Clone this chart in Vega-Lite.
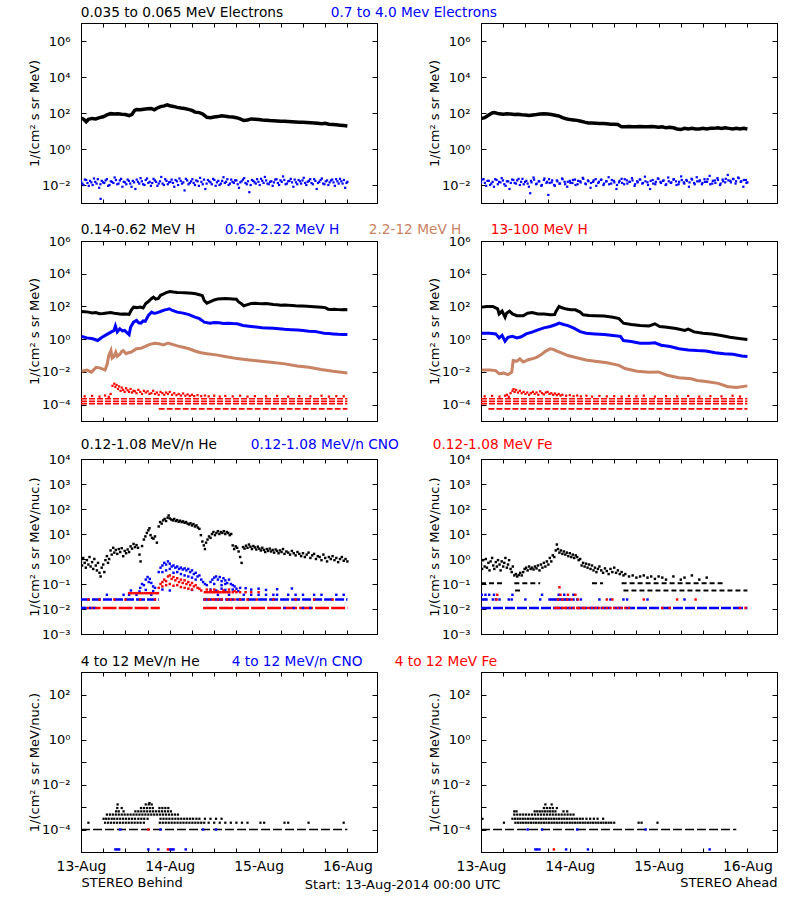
{
"$schema":"https://vega.github.io/schema/vega-lite/v6.json",
"padding":{"left":27,"top":5,"right":2,"bottom":5},
"background":"white",
"title":{"text":"Start: 13-Aug-2014 00:00 UTC","orient":"bottom","anchor":"middle","offset":-11,"fontSize":13,"fontWeight":"normal","font":"DejaVu Sans","color":"black"},
"config":{
 "font":"DejaVu Sans",
 "view":{"stroke":"black","strokeWidth":1},
 "axis":{"grid":false,"domainColor":"black","tickColor":"black","labelColor":"black","titleColor":"black","labelFont":"DejaVu Sans","titleFont":"DejaVu Sans","labelFontSize":13,"titleFontSize":13,"titleFontWeight":"normal","domainWidth":1,"tickWidth":1},
 "axisTop":{"tickSize":-4},
 "axisBottom":{"tickSize":-4,"labelPadding":11,"labelFlush":false,"labelOverlap":false,"titlePadding":3},
 "axisLeft":{"tickSize":-5,"labelPadding":16,"labelOverlap":false},
 "axisRight":{"tickSize":-5},
 "legend":{"labelLimit":0,"padding":0}
},
"datasets":{
"e1LA":[{"h":0,"v":52},{"h":0.5,"v":48},{"h":1,"v":40},{"h":1.4,"v":33},{"h":2,"v":44},{"h":3,"v":50},{"h":4,"v":47},{"h":5,"v":55},{"h":6,"v":62},{"h":7,"v":78},{"h":8,"v":92},{"h":9,"v":88},{"h":10,"v":90},{"h":11,"v":85},{"h":12,"v":82},{"h":13,"v":72},{"h":13.8,"v":85},{"h":14.5,"v":140},{"h":15,"v":155},{"h":16,"v":150},{"h":17,"v":162},{"h":18,"v":170},{"h":19,"v":178},{"h":19.8,"v":150},{"h":20.5,"v":185},{"h":21.5,"v":225},{"h":22.5,"v":250},{"h":23.3,"v":285},{"h":24,"v":255},{"h":25,"v":232},{"h":26,"v":205},{"h":27,"v":190},{"h":28,"v":178},{"h":29,"v":160},{"h":30,"v":140},{"h":30.8,"v":112},{"h":32,"v":105},{"h":33,"v":85},{"h":34,"v":58},{"h":35,"v":55},{"h":36,"v":60},{"h":37,"v":63},{"h":38,"v":70},{"h":39,"v":66},{"h":40,"v":62},{"h":41,"v":60},{"h":42,"v":55},{"h":43,"v":47},{"h":44,"v":38},{"h":45,"v":41},{"h":46,"v":47},{"h":47,"v":45},{"h":48,"v":43},{"h":49,"v":41},{"h":50,"v":40},{"h":51,"v":38},{"h":52,"v":37},{"h":53,"v":36},{"h":54,"v":35},{"h":55,"v":35},{"h":56,"v":34},{"h":57,"v":33},{"h":58,"v":32},{"h":59,"v":31},{"h":60,"v":31},{"h":61,"v":30},{"h":62,"v":29},{"h":63,"v":28},{"h":64,"v":27},{"h":65,"v":25},{"h":66,"v":27},{"h":67,"v":24},{"h":68,"v":23},{"h":69,"v":22},{"h":70,"v":21},{"h":71,"v":20},{"h":72,"v":19}],
"e1LB":[{"h":0,"v":0.016},{"h":0.7,"v":0.01},{"h":1.4,"v":0.019},{"h":2.1,"v":0.009},{"h":2.8,"v":0.014},{"h":3.5,"v":0.023},{"h":4.2,"v":0.012},{"h":4.9,"v":0.007},{"h":5.3,"v":0.0017},{"h":5.6,"v":0.017},{"h":6.3,"v":0.013},{"h":7,"v":0.021},{"h":7.7,"v":0.01},{"h":8.4,"v":0.015},{"h":9.1,"v":0.026},{"h":9.8,"v":0.011},{"h":10.5,"v":0.018},{"h":11.2,"v":0.008},{"h":11.9,"v":0.014},{"h":12.6,"v":0.02},{"h":13.3,"v":0.012},{"h":14,"v":0.017},{"h":14.7,"v":0.006},{"h":15.4,"v":0.015},{"h":16.1,"v":0.024},{"h":16.8,"v":0.011},{"h":17.5,"v":0.019},{"h":18.2,"v":0.013},{"h":18.9,"v":0.009},{"h":19.6,"v":0.022},{"h":20.3,"v":0.015},{"h":21,"v":0.012},{"h":21.7,"v":0.028},{"h":22.4,"v":0.01},{"h":23.1,"v":0.017},{"h":23.8,"v":0.014},{"h":24.5,"v":0.02},{"h":25.2,"v":0.008},{"h":25.9,"v":0.016},{"h":26.6,"v":0.023},{"h":27.3,"v":0.012},{"h":28,"v":0.005},{"h":28.7,"v":0.018},{"h":29.4,"v":0.013},{"h":30.1,"v":0.021},{"h":30.8,"v":0.01},{"h":31.5,"v":0.016},{"h":32.2,"v":0.025},{"h":32.9,"v":0.011},{"h":33.6,"v":0.006},{"h":34.3,"v":0.019},{"h":35,"v":0.014},{"h":35.7,"v":0.022},{"h":36.4,"v":0.009},{"h":37.1,"v":0.017},{"h":37.8,"v":0.012},{"h":38.5,"v":0.027},{"h":39.2,"v":0.015},{"h":39.9,"v":0.01},{"h":40.6,"v":0.02},{"h":41.3,"v":0.013},{"h":42,"v":0.018},{"h":42.7,"v":0.007},{"h":43.4,"v":0.016},{"h":44.1,"v":0.024},{"h":44.8,"v":0.011},{"h":45.5,"v":0.004},{"h":46.2,"v":0.019},{"h":46.9,"v":0.014},{"h":47.6,"v":0.021},{"h":48.3,"v":0.01},{"h":49,"v":0.017},{"h":49.7,"v":0.028},{"h":50.4,"v":0.012},{"h":51.1,"v":0.015},{"h":51.8,"v":0.009},{"h":52.5,"v":0.02},{"h":53.2,"v":0.013},{"h":53.9,"v":0.018},{"h":54.6,"v":0.03},{"h":55.3,"v":0.011},{"h":56,"v":0.016},{"h":56.7,"v":0.022},{"h":57.4,"v":0.008},{"h":58.1,"v":0.014},{"h":58.8,"v":0.019},{"h":59.5,"v":0.012},{"h":60.2,"v":0.025},{"h":60.9,"v":0.01},{"h":61.6,"v":0.017},{"h":62.3,"v":0.013},{"h":63,"v":0.021},{"h":63.7,"v":0.006},{"h":64.4,"v":0.015},{"h":65.1,"v":0.023},{"h":65.8,"v":0.011},{"h":66.5,"v":0.018},{"h":67.2,"v":0.014},{"h":67.9,"v":0.02},{"h":68.6,"v":0.009},{"h":69.3,"v":0.016},{"h":70,"v":0.022},{"h":70.7,"v":0.012},{"h":71.4,"v":0.007},{"h":72,"v":0.015},
{"h":0.35,"v":0.012},{"h":1.05,"v":0.02},{"h":1.75,"v":0.013},{"h":2.45,"v":0.017},{"h":3.15,"v":0.01},{"h":3.85,"v":0.015},{"h":4.55,"v":0.021},{"h":5.25,"v":0.011},{"h":5.95,"v":0.014},{"h":6.65,"v":0.018},{"h":7.35,"v":0.009},{"h":8.05,"v":0.016},{"h":8.75,"v":0.013},{"h":9.45,"v":0.019},{"h":10.15,"v":0.012},{"h":10.85,"v":0.022},{"h":11.55,"v":0.015},{"h":12.25,"v":0.011},{"h":12.95,"v":0.017},{"h":13.65,"v":0.008},{"h":14.35,"v":0.014},{"h":15.05,"v":0.02},{"h":15.75,"v":0.012},{"h":16.45,"v":0.016},{"h":17.15,"v":0.01},{"h":17.85,"v":0.023},{"h":18.55,"v":0.015},{"h":19.25,"v":0.013},{"h":19.95,"v":0.018},{"h":20.65,"v":0.009},{"h":21.35,"v":0.016},{"h":22.05,"v":0.012},{"h":22.75,"v":0.021},{"h":23.45,"v":0.011},{"h":24.15,"v":0.015},{"h":24.85,"v":0.013},{"h":25.55,"v":0.019},{"h":26.25,"v":0.01},{"h":26.95,"v":0.017},{"h":27.65,"v":0.014},{"h":28.35,"v":0.022},{"h":29.05,"v":0.011},{"h":29.75,"v":0.016},{"h":30.45,"v":0.013},{"h":31.15,"v":0.018},{"h":31.85,"v":0.009},{"h":32.55,"v":0.015},{"h":33.25,"v":0.02},{"h":33.95,"v":0.012},{"h":34.65,"v":0.016},{"h":35.35,"v":0.011},{"h":36.05,"v":0.019},{"h":36.75,"v":0.014},{"h":37.45,"v":0.01},{"h":38.15,"v":0.017},{"h":38.85,"v":0.013},{"h":39.55,"v":0.021},{"h":40.25,"v":0.012},{"h":40.95,"v":0.015},{"h":41.65,"v":0.018},{"h":42.35,"v":0.011},{"h":43.05,"v":0.014},{"h":43.75,"v":0.02},{"h":44.45,"v":0.013},{"h":45.15,"v":0.016},{"h":45.85,"v":0.01},{"h":46.55,"v":0.017},{"h":47.25,"v":0.012},{"h":47.95,"v":0.015},{"h":48.65,"v":0.022},{"h":49.35,"v":0.013},{"h":50.05,"v":0.018},{"h":50.75,"v":0.011},{"h":51.45,"v":0.016},{"h":52.15,"v":0.014},{"h":52.85,"v":0.021},{"h":53.55,"v":0.01},{"h":54.25,"v":0.015},{"h":54.95,"v":0.019},{"h":55.65,"v":0.012},{"h":56.35,"v":0.017},{"h":57.05,"v":0.014},{"h":57.75,"v":0.02},{"h":58.45,"v":0.011},{"h":59.15,"v":0.016},{"h":59.85,"v":0.018},{"h":60.55,"v":0.013},{"h":61.25,"v":0.015},{"h":61.95,"v":0.021},{"h":62.65,"v":0.011},{"h":63.35,"v":0.017},{"h":64.05,"v":0.013},{"h":64.75,"v":0.019},{"h":65.45,"v":0.012},{"h":66.15,"v":0.016},{"h":66.85,"v":0.01},{"h":67.55,"v":0.018},{"h":68.25,"v":0.014},{"h":68.95,"v":0.021},{"h":69.65,"v":0.012},{"h":70.35,"v":0.016},{"h":71.05,"v":0.019},{"h":71.75,"v":0.013}],
"e1RA":[{"h":0,"v":50},{"h":1,"v":55},{"h":2,"v":75},{"h":3,"v":100},{"h":3.6,"v":105},{"h":4.9,"v":90},{"h":6,"v":85},{"h":7,"v":90},{"h":8,"v":87},{"h":9,"v":82},{"h":10,"v":85},{"h":11,"v":80},{"h":12,"v":78},{"h":13,"v":72},{"h":14,"v":78},{"h":15,"v":82},{"h":16,"v":88},{"h":17,"v":90},{"h":18,"v":88},{"h":19,"v":82},{"h":20,"v":75},{"h":21,"v":68},{"h":22,"v":55},{"h":23,"v":48},{"h":24,"v":43},{"h":25,"v":41},{"h":26,"v":39},{"h":27,"v":35},{"h":28,"v":31},{"h":29,"v":28},{"h":30,"v":28},{"h":31,"v":27},{"h":32,"v":26},{"h":33,"v":26},{"h":34,"v":25},{"h":35,"v":24},{"h":36,"v":24},{"h":37,"v":23},{"h":38,"v":17},{"h":39,"v":17},{"h":40,"v":18},{"h":41,"v":17},{"h":42,"v":17},{"h":43,"v":18},{"h":44,"v":17},{"h":45,"v":17},{"h":46,"v":18},{"h":47,"v":17},{"h":48,"v":16},{"h":49,"v":17},{"h":50,"v":15},{"h":51,"v":16},{"h":52,"v":15},{"h":53,"v":13},{"h":54,"v":12},{"h":55,"v":14},{"h":56,"v":13},{"h":57,"v":14},{"h":58,"v":13},{"h":59,"v":13},{"h":60,"v":14},{"h":61,"v":13},{"h":62,"v":14},{"h":63,"v":14},{"h":64,"v":15},{"h":65,"v":14},{"h":66,"v":15},{"h":67,"v":14},{"h":68,"v":13},{"h":69,"v":14},{"h":70,"v":13},{"h":71,"v":14},{"h":72,"v":13}],
"e1RB":[{"h":0,"v":0.014},{"h":0.7,"v":0.021},{"h":1.4,"v":0.009},{"h":2.1,"v":0.017},{"h":2.8,"v":0.012},{"h":3.5,"v":0.008},{"h":4.2,"v":0.019},{"h":4.9,"v":0.015},{"h":5.6,"v":0.024},{"h":6.3,"v":0.011},{"h":7,"v":0.016},{"h":7.7,"v":0.006},{"h":8.4,"v":0.02},{"h":9.1,"v":0.013},{"h":9.8,"v":0.018},{"h":10.5,"v":0.01},{"h":11.2,"v":0.022},{"h":11.9,"v":0.015},{"h":12.6,"v":0.012},{"h":13.3,"v":0.0035},{"h":13.5,"v":0.017},{"h":14.2,"v":0.026},{"h":14.9,"v":0.011},{"h":15.6,"v":0.016},{"h":16.3,"v":0.009},{"h":17,"v":0.019},{"h":17.7,"v":0.013},{"h":18.2,"v":0.0028},{"h":18.4,"v":0.021},{"h":19.1,"v":0.014},{"h":19.8,"v":0.01},{"h":20.5,"v":0.018},{"h":21.2,"v":0.012},{"h":21.9,"v":0.023},{"h":22.6,"v":0.015},{"h":23.3,"v":0.008},{"h":24,"v":0.017},{"h":24.7,"v":0.013},{"h":25.4,"v":0.02},{"h":26.1,"v":0.011},{"h":26.8,"v":0.016},{"h":27.5,"v":0.025},{"h":28.2,"v":0.012},{"h":28.9,"v":0.018},{"h":29.6,"v":0.007},{"h":30.3,"v":0.015},{"h":31,"v":0.021},{"h":31.7,"v":0.013},{"h":32.4,"v":0.019},{"h":33.1,"v":0.01},{"h":33.8,"v":0.016},{"h":34.5,"v":0.027},{"h":35.2,"v":0.012},{"h":35.9,"v":0.017},{"h":36.6,"v":0.006},{"h":37.3,"v":0.014},{"h":38,"v":0.022},{"h":38.7,"v":0.011},{"h":39.4,"v":0.018},{"h":40.1,"v":0.015},{"h":40.8,"v":0.024},{"h":41.5,"v":0.009},{"h":42.2,"v":0.016},{"h":42.9,"v":0.02},{"h":43.6,"v":0.012},{"h":44.3,"v":0.029},{"h":45,"v":0.014},{"h":45.7,"v":0.006},{"h":46.4,"v":0.019},{"h":47.1,"v":0.011},{"h":47.8,"v":0.023},{"h":48.5,"v":0.015},{"h":49.2,"v":0.017},{"h":49.9,"v":0.01},{"h":50.6,"v":0.026},{"h":51.3,"v":0.013},{"h":52,"v":0.02},{"h":52.7,"v":0.016},{"h":53.4,"v":0.011},{"h":54.1,"v":0.03},{"h":54.8,"v":0.014},{"h":55.5,"v":0.019},{"h":56.2,"v":0.008},{"h":56.9,"v":0.022},{"h":57.6,"v":0.013},{"h":58.3,"v":0.027},{"h":59,"v":0.016},{"h":59.7,"v":0.011},{"h":60.4,"v":0.021},{"h":61.1,"v":0.015},{"h":61.8,"v":0.032},{"h":62.5,"v":0.012},{"h":63.2,"v":0.018},{"h":63.9,"v":0.024},{"h":64.6,"v":0.01},{"h":65.3,"v":0.02},{"h":66,"v":0.014},{"h":66.7,"v":0.036},{"h":67.4,"v":0.017},{"h":68.1,"v":0.022},{"h":68.8,"v":0.012},{"h":69.5,"v":0.026},{"h":70.2,"v":0.015},{"h":70.9,"v":0.008},{"h":71.6,"v":0.019},{"h":72,"v":0.014},
{"h":0.35,"v":0.02},{"h":1.05,"v":0.013},{"h":1.75,"v":0.017},{"h":2.45,"v":0.01},{"h":3.15,"v":0.015},{"h":3.85,"v":0.021},{"h":4.55,"v":0.011},{"h":5.25,"v":0.014},{"h":5.95,"v":0.018},{"h":6.65,"v":0.009},{"h":7.35,"v":0.016},{"h":8.05,"v":0.013},{"h":8.75,"v":0.019},{"h":9.45,"v":0.012},{"h":10.15,"v":0.022},{"h":10.85,"v":0.015},{"h":11.55,"v":0.011},{"h":12.25,"v":0.017},{"h":12.95,"v":0.008},{"h":13.65,"v":0.014},{"h":14.35,"v":0.02},{"h":15.05,"v":0.012},{"h":15.75,"v":0.016},{"h":16.45,"v":0.01},{"h":17.15,"v":0.023},{"h":17.85,"v":0.015},{"h":18.55,"v":0.013},{"h":19.25,"v":0.018},{"h":19.95,"v":0.009},{"h":20.65,"v":0.016},{"h":21.35,"v":0.012},{"h":22.05,"v":0.021},{"h":22.75,"v":0.011},{"h":23.45,"v":0.015},{"h":24.15,"v":0.013},{"h":24.85,"v":0.019},{"h":25.55,"v":0.01},{"h":26.25,"v":0.017},{"h":26.95,"v":0.014},{"h":27.65,"v":0.022},{"h":28.35,"v":0.011},{"h":29.05,"v":0.016},{"h":29.75,"v":0.013},{"h":30.45,"v":0.018},{"h":31.15,"v":0.009},{"h":31.85,"v":0.015},{"h":32.55,"v":0.02},{"h":33.25,"v":0.012},{"h":33.95,"v":0.016},{"h":34.65,"v":0.011},{"h":35.35,"v":0.019},{"h":36.05,"v":0.014},{"h":36.75,"v":0.01},{"h":37.45,"v":0.017},{"h":38.15,"v":0.013},{"h":38.85,"v":0.021},{"h":39.55,"v":0.012},{"h":40.25,"v":0.015},{"h":40.95,"v":0.018},{"h":41.65,"v":0.011},{"h":42.35,"v":0.014},{"h":43.05,"v":0.02},{"h":43.75,"v":0.013},{"h":44.45,"v":0.016},{"h":45.15,"v":0.01},{"h":45.85,"v":0.017},{"h":46.55,"v":0.012},{"h":47.25,"v":0.015},{"h":47.95,"v":0.022},{"h":48.65,"v":0.013},{"h":49.35,"v":0.018},{"h":50.05,"v":0.011},{"h":50.75,"v":0.016},{"h":51.45,"v":0.014},{"h":52.15,"v":0.021},{"h":52.85,"v":0.01},{"h":53.55,"v":0.015},{"h":54.25,"v":0.019},{"h":54.95,"v":0.012},{"h":55.65,"v":0.017},{"h":56.35,"v":0.014},{"h":57.05,"v":0.02},{"h":57.75,"v":0.011},{"h":58.45,"v":0.016},{"h":59.15,"v":0.018},{"h":59.85,"v":0.013},{"h":60.55,"v":0.015},{"h":61.25,"v":0.021},{"h":61.95,"v":0.011},{"h":62.65,"v":0.017},{"h":63.35,"v":0.013},{"h":64.05,"v":0.019},{"h":64.75,"v":0.012},{"h":65.45,"v":0.016},{"h":66.15,"v":0.022},{"h":66.85,"v":0.018},{"h":67.55,"v":0.014},{"h":68.25,"v":0.021},{"h":68.95,"v":0.016},{"h":69.65,"v":0.024},{"h":70.35,"v":0.016},{"h":71.05,"v":0.019},{"h":71.75,"v":0.013}],
"h2LA":[{"h":0,"v":49},{"h":1,"v":47},{"h":2,"v":45},{"h":3,"v":40},{"h":4,"v":42},{"h":5,"v":36},{"h":6,"v":37},{"h":7,"v":40},{"h":8,"v":42},{"h":9,"v":38},{"h":10,"v":36},{"h":11,"v":34},{"h":12,"v":35},{"h":13,"v":33},{"h":13.6,"v":60},{"h":14.2,"v":90},{"h":15,"v":85},{"h":16,"v":92},{"h":16.8,"v":80},{"h":17.5,"v":150},{"h":18.2,"v":200},{"h":19,"v":300},{"h":19.6,"v":370},{"h":20.2,"v":280},{"h":20.9,"v":310},{"h":21.5,"v":480},{"h":22.2,"v":560},{"h":23,"v":700},{"h":24,"v":820},{"h":25,"v":760},{"h":26,"v":720},{"h":27,"v":700},{"h":28,"v":680},{"h":29,"v":660},{"h":30,"v":640},{"h":31,"v":600},{"h":32,"v":520},{"h":32.8,"v":460},{"h":33.3,"v":230},{"h":34,"v":160},{"h":35,"v":200},{"h":36,"v":250},{"h":37,"v":290},{"h":38,"v":300},{"h":39,"v":310},{"h":40,"v":300},{"h":41,"v":290},{"h":42,"v":275},{"h":42.6,"v":190},{"h":43.3,"v":150},{"h":44,"v":110},{"h":45,"v":130},{"h":46,"v":150},{"h":47,"v":155},{"h":48,"v":150},{"h":49,"v":148},{"h":50,"v":150},{"h":51,"v":140},{"h":52,"v":132},{"h":53,"v":126},{"h":54,"v":120},{"h":55,"v":122},{"h":56,"v":118},{"h":57,"v":115},{"h":58,"v":110},{"h":59,"v":108},{"h":60,"v":105},{"h":61,"v":102},{"h":62,"v":100},{"h":63,"v":97},{"h":64,"v":94},{"h":65,"v":90},{"h":66,"v":85},{"h":66.8,"v":68},{"h":67.5,"v":66},{"h":68.5,"v":68},{"h":69.5,"v":64},{"h":70.5,"v":62},{"h":71.3,"v":64},{"h":72,"v":63}],
"h2LB":[{"h":0.2,"v":1.45},{"h":1.6,"v":1.2},{"h":3.2,"v":1.05},{"h":4.5,"v":0.83},{"h":5.7,"v":1.3},{"h":6.9,"v":1.9},{"h":8.1,"v":2.7},{"h":8.9,"v":3.4},{"h":9.3,"v":6.5},{"h":9.8,"v":2.8},{"h":10.5,"v":4.3},{"h":11.2,"v":3.2},{"h":11.8,"v":3.4},{"h":12.4,"v":2.5},{"h":13,"v":1.9},{"h":13.4,"v":5.4},{"h":14.2,"v":11},{"h":15,"v":14},{"h":15.6,"v":10},{"h":16.2,"v":9.5},{"h":16.8,"v":13},{"h":17.4,"v":12.5},{"h":18.2,"v":28},{"h":19.1,"v":45},{"h":19.7,"v":38},{"h":20.3,"v":39},{"h":21,"v":45},{"h":21.5,"v":49},{"h":22.1,"v":55},{"h":22.7,"v":62},{"h":23.3,"v":66},{"h":23.9,"v":72},{"h":24.7,"v":57},{"h":25.3,"v":52},{"h":26,"v":45},{"h":27.6,"v":39},{"h":29.2,"v":32},{"h":30.8,"v":22},{"h":32,"v":18},{"h":32.7,"v":14},{"h":33.3,"v":11},{"h":34.9,"v":9.5},{"h":36,"v":10.5},{"h":37.3,"v":10},{"h":38.5,"v":9.2},{"h":39.7,"v":9.5},{"h":41,"v":9},{"h":42.2,"v":8.7},{"h":43.8,"v":6.8},{"h":45.4,"v":6.2},{"h":46.6,"v":5.8},{"h":47.9,"v":5.4},{"h":49,"v":5},{"h":50.3,"v":4.9},{"h":52,"v":4.6},{"h":53.5,"v":4.3},{"h":55,"v":4},{"h":56.8,"v":3.8},{"h":58.5,"v":3.6},{"h":60,"v":3.4},{"h":61.6,"v":3.1},{"h":63.3,"v":2.9},{"h":64.5,"v":2.6},{"h":65.7,"v":2.3},{"h":67,"v":2.2},{"h":68.1,"v":2.1},{"h":69.5,"v":2},{"h":70.8,"v":1.95},{"h":72,"v":1.9}],
"h2LC":[{"h":0.2,"v":0.011},{"h":1.6,"v":0.013},{"h":2.8,"v":0.0097},{"h":4.1,"v":0.019},{"h":5.3,"v":0.017},{"h":6.5,"v":0.013},{"h":7.1,"v":0.031},{"h":7.5,"v":0.1},{"h":8.1,"v":0.2},{"h":8.4,"v":0.07},{"h":8.9,"v":0.087},{"h":9.4,"v":0.16},{"h":9.8,"v":0.09},{"h":10.5,"v":0.12},{"h":11,"v":0.18},{"h":11.4,"v":0.2},{"h":12.2,"v":0.13},{"h":12.8,"v":0.15},{"h":13.4,"v":0.16},{"h":14.2,"v":0.2},{"h":15,"v":0.26},{"h":16.2,"v":0.28},{"h":17.4,"v":0.36},{"h":18.6,"v":0.48},{"h":19.9,"v":0.57},{"h":21.1,"v":0.52},{"h":22.3,"v":0.45},{"h":23.5,"v":0.57},{"h":24.7,"v":0.48},{"h":26,"v":0.39},{"h":27.6,"v":0.32},{"h":29.2,"v":0.26},{"h":30.8,"v":0.19},{"h":32.4,"v":0.15},{"h":34.1,"v":0.13},{"h":36.5,"v":0.11},{"h":38.9,"v":0.087},{"h":42.2,"v":0.065},{"h":45.4,"v":0.054},{"h":48.7,"v":0.045},{"h":51.9,"v":0.037},{"h":55.1,"v":0.031},{"h":58.4,"v":0.023},{"h":61.6,"v":0.019},{"h":64.9,"v":0.014},{"h":68.1,"v":0.011},{"h":72,"v":0.0087}],
"h2LD":[{"h":1,"v":0.00032},{"h":3,"v":0.00034},{"h":5,"v":0.00031},{"h":6.5,"v":0.00036},{"h":7.5,"v":0.0003},{"h":8,"v":0.00045},{"h":8.5,"v":0.0014},{"h":9,"v":0.0019},{"h":9.3,"v":0.0012},{"h":9.6,"v":0.0016},{"h":10,"v":0.0009},{"h":10.3,"v":0.0013},{"h":10.7,"v":0.0007},{"h":11,"v":0.0011},{"h":11.4,"v":0.0008},{"h":11.8,"v":0.0006},{"h":12.2,"v":0.001},{"h":12.6,"v":0.00075},{"h":13,"v":0.0006},{"h":13.4,"v":0.0009},{"h":13.8,"v":0.00055},{"h":14.2,"v":0.0007},{"h":14.6,"v":0.00065},{"h":15,"v":0.0005},{"h":15.5,"v":0.0008},{"h":16,"v":0.0006},{"h":16.5,"v":0.00045},{"h":17,"v":0.0007},{"h":17.5,"v":0.00055},{"h":18,"v":0.00065},{"h":18.5,"v":0.00045},{"h":19,"v":0.0005},{"h":19.5,"v":0.0007},{"h":20,"v":0.00045},{"h":20.5,"v":0.00055},{"h":21,"v":0.0004},{"h":21.5,"v":0.0006},{"h":22,"v":0.0005},{"h":22.5,"v":0.0004},{"h":23,"v":0.00055},{"h":23.5,"v":0.00045},{"h":24,"v":0.0006},{"h":24.6,"v":0.0004},{"h":25.2,"v":0.0005},{"h":25.8,"v":0.00038},{"h":26.4,"v":0.00045},{"h":27,"v":0.00036},{"h":27.6,"v":0.00048},{"h":28.2,"v":0.00035},{"h":28.8,"v":0.00042},{"h":29.4,"v":0.00034},{"h":30,"v":0.0004},{"h":30.6,"v":0.00033},{"h":31.5,"v":0.00038},{"h":32.5,"v":0.00033},{"h":33.5,"v":0.00036},{"h":34.5,"v":0.00032},{"h":36,"v":0.00035},{"h":37.5,"v":0.00031},{"h":39,"v":0.00034},{"h":41,"v":0.00032},{"h":43,"v":0.00035},{"h":45,"v":0.00031},{"h":47,"v":0.00033},{"h":50,"v":0.00032},{"h":53,"v":0.00034},{"h":56,"v":0.00031},{"h":59,"v":0.00033},{"h":62,"v":0.00032},{"h":65,"v":0.00035},{"h":67,"v":0.00031},{"h":69,"v":0.00033},{"h":71,"v":0.00032}],
"h2LE":[{"h":0,"v":0.00023,"g":1},{"h":72,"v":0.00023,"g":1},{"h":0,"v":0.00016,"g":2},{"h":72,"v":0.00016,"g":2},{"h":0,"v":0.000115,"g":3},{"h":72,"v":0.000115,"g":3},{"h":21,"v":0.000055,"g":4},{"h":72,"v":0.000055,"g":4}],
"h2RA":[{"h":0.2,"v":91},{"h":1.6,"v":100},{"h":3.2,"v":100},{"h":4.5,"v":72},{"h":4.9,"v":35},{"h":5.7,"v":52},{"h":6.5,"v":22},{"h":6.9,"v":39},{"h":7.7,"v":52},{"h":8.5,"v":35},{"h":9.7,"v":27},{"h":11.4,"v":27},{"h":12.6,"v":39},{"h":13.8,"v":43},{"h":15.4,"v":35},{"h":17,"v":35},{"h":18.7,"v":31},{"h":19.9,"v":32},{"h":20.3,"v":52},{"h":21.1,"v":100},{"h":21.9,"v":83},{"h":23.1,"v":69},{"h":24.3,"v":62},{"h":25.5,"v":62},{"h":26.8,"v":45},{"h":27.6,"v":31},{"h":29.2,"v":28},{"h":30.8,"v":27},{"h":33.3,"v":26},{"h":35.7,"v":22},{"h":37.3,"v":18},{"h":38.5,"v":9.5},{"h":40.6,"v":7.9},{"h":43,"v":6.8},{"h":45.4,"v":6.5},{"h":47,"v":8.7},{"h":48.3,"v":6},{"h":50.3,"v":5.4},{"h":52.7,"v":4.5},{"h":55.1,"v":3.4},{"h":56,"v":4.1},{"h":57.6,"v":2.8},{"h":60,"v":2.3},{"h":62.4,"v":2.1},{"h":64.9,"v":1.7},{"h":67.3,"v":1.3},{"h":69.7,"v":1.1},{"h":72,"v":0.95}],
"h2RB":[{"h":0.2,"v":2.3},{"h":2.4,"v":2.3},{"h":4,"v":2.1},{"h":4.9,"v":1.2},{"h":5.7,"v":1.7},{"h":6.5,"v":0.75},{"h":7.3,"v":1.3},{"h":8.5,"v":1.5},{"h":9.7,"v":1.2},{"h":10.9,"v":1.4},{"h":12.2,"v":2.1},{"h":13.8,"v":2.7},{"h":15.4,"v":3.7},{"h":17,"v":4.9},{"h":18.7,"v":6},{"h":20.3,"v":7.9},{"h":21.1,"v":9.5},{"h":22.3,"v":7.9},{"h":23.5,"v":6.8},{"h":25.1,"v":4.7},{"h":26.8,"v":2.9},{"h":28.4,"v":2.3},{"h":30.8,"v":2.1},{"h":33.3,"v":1.9},{"h":35.7,"v":1.7},{"h":37.7,"v":1.5},{"h":38.5,"v":0.83},{"h":40.6,"v":0.72},{"h":43,"v":0.57},{"h":45.4,"v":0.57},{"h":47,"v":0.6},{"h":48.7,"v":0.43},{"h":51.1,"v":0.36},{"h":53.5,"v":0.26},{"h":56,"v":0.22},{"h":58.4,"v":0.2},{"h":60.8,"v":0.19},{"h":63.3,"v":0.15},{"h":65.7,"v":0.13},{"h":68.1,"v":0.12},{"h":70.5,"v":0.095},{"h":72,"v":0.087}],
"h2RC":[{"h":0.2,"v":0.013},{"h":2.4,"v":0.013},{"h":4,"v":0.012},{"h":4.9,"v":0.0077},{"h":6.1,"v":0.0084},{"h":7.3,"v":0.0068},{"h":8.3,"v":0.0097},{"h":8.7,"v":0.05},{"h":9.7,"v":0.045},{"h":10.5,"v":0.063},{"h":11.4,"v":0.04},{"h":12.6,"v":0.054},{"h":13.8,"v":0.063},{"h":15,"v":0.078},{"h":16.2,"v":0.11},{"h":17.4,"v":0.18},{"h":18.7,"v":0.26},{"h":19.5,"v":0.24},{"h":20.7,"v":0.18},{"h":21.9,"v":0.14},{"h":23.5,"v":0.1},{"h":25.9,"v":0.073},{"h":28.4,"v":0.054},{"h":30.8,"v":0.045},{"h":34.1,"v":0.036},{"h":37.3,"v":0.025},{"h":38.9,"v":0.016},{"h":42.2,"v":0.011},{"h":45.4,"v":0.0094},{"h":47.9,"v":0.01},{"h":50.3,"v":0.0063},{"h":53.5,"v":0.0044},{"h":56.8,"v":0.0038},{"h":58.4,"v":0.003},{"h":60.8,"v":0.0026},{"h":64.1,"v":0.002},{"h":66.5,"v":0.0013},{"h":69,"v":0.0011},{"h":72,"v":0.0014}],
"h2RD":[{"h":1,"v":0.00032},{"h":3,"v":0.00034},{"h":5,"v":0.00031},{"h":6.5,"v":0.00035},{"h":7,"v":0.0004},{"h":7.5,"v":0.0003},{"h":8,"v":0.0005},{"h":8.5,"v":0.0007},{"h":8.8,"v":0.0009},{"h":9.1,"v":0.0006},{"h":9.5,"v":0.0008},{"h":10,"v":0.00055},{"h":10.5,"v":0.0007},{"h":11,"v":0.0005},{"h":11.5,"v":0.0006},{"h":12,"v":0.00045},{"h":12.5,"v":0.00055},{"h":13,"v":0.0004},{"h":13.5,"v":0.0005},{"h":14,"v":0.0006},{"h":14.5,"v":0.00045},{"h":15,"v":0.00055},{"h":15.5,"v":0.0004},{"h":16,"v":0.00065},{"h":16.5,"v":0.0005},{"h":17,"v":0.00042},{"h":17.5,"v":0.00055},{"h":18,"v":0.0006},{"h":18.5,"v":0.00045},{"h":19,"v":0.0005},{"h":19.5,"v":0.0004},{"h":20,"v":0.00048},{"h":20.5,"v":0.00038},{"h":21,"v":0.00045},{"h":21.5,"v":0.00036},{"h":22,"v":0.0004},{"h":23,"v":0.00035},{"h":24,"v":0.00038},{"h":25,"v":0.00033},{"h":26,"v":0.00036},{"h":27,"v":0.00032},{"h":28.5,"v":0.00035},{"h":30,"v":0.00031},{"h":32,"v":0.00034},{"h":34,"v":0.00032},{"h":36,"v":0.00033},{"h":38,"v":0.00031},{"h":40,"v":0.00034},{"h":42,"v":0.00032},{"h":44,"v":0.00035},{"h":47,"v":0.00031},{"h":50,"v":0.00033},{"h":53,"v":0.00032},{"h":56,"v":0.00034},{"h":59,"v":0.00031},{"h":62,"v":0.00033},{"h":65,"v":0.00032},{"h":68,"v":0.00035},{"h":70,"v":0.00031}],
"h2RE":[{"h":0,"v":0.00023,"g":1},{"h":72,"v":0.00023,"g":1},{"h":0,"v":0.00016,"g":2},{"h":72,"v":0.00016,"g":2},{"h":0,"v":0.000115,"g":3},{"h":72,"v":0.000115,"g":3},{"h":2,"v":0.000055,"g":4},{"h":72,"v":0.000055,"g":4}],
"z3LA":[{"h":0,"v":0.8},{"h":0.3,"v":0.55},{"h":0.6,"v":1.1},{"h":1,"v":0.7},{"h":1.3,"v":0.45},{"h":1.6,"v":0.9},{"h":2,"v":0.6},{"h":2.3,"v":1.2},{"h":2.6,"v":0.5},{"h":3,"v":0.75},{"h":3.3,"v":0.4},{"h":3.6,"v":1},{"h":4,"v":0.55},{"h":4.3,"v":0.35},{"h":4.6,"v":0.7},{"h":5,"v":0.28},{"h":5.3,"v":0.2},{"h":5.6,"v":0.45},{"h":6,"v":0.6},{"h":6.3,"v":0.3},{"h":6.6,"v":0.9},{"h":7,"v":1.3},{"h":7.3,"v":0.7},{"h":7.6,"v":1},{"h":8,"v":2.2},{"h":8.3,"v":1.5},{"h":8.7,"v":2.8},{"h":9,"v":1.8},{"h":9.4,"v":2.3},{"h":9.8,"v":1.6},{"h":10.2,"v":2.5},{"h":10.6,"v":1.9},{"h":11,"v":2.7},{"h":11.4,"v":1.3},{"h":11.8,"v":2.1},{"h":12.2,"v":1.7},{"h":12.6,"v":2.4},{"h":13,"v":1.9},{"h":13.4,"v":3.2},{"h":13.8,"v":2.6},{"h":14.2,"v":4},{"h":14.6,"v":3},{"h":15,"v":3.6},{"h":15.4,"v":2.8},{"h":15.8,"v":1.5},{"h":16.1,"v":0.8},{"h":16.5,"v":3.3},{"h":17,"v":6},{"h":17.4,"v":8},{"h":17.8,"v":11},{"h":18.2,"v":14},{"h":18.5,"v":17},{"h":18.8,"v":9},{"h":19.2,"v":7},{"h":19.6,"v":6.5},{"h":20,"v":8},{"h":20.5,"v":4.5},{"h":21,"v":20},{"h":21.4,"v":30},{"h":21.8,"v":26},{"h":22.2,"v":35},{"h":22.6,"v":40},{"h":23,"v":33},{"h":23.4,"v":45},{"h":23.7,"v":55},{"h":24,"v":42},{"h":24.4,"v":38},{"h":24.8,"v":35},{"h":25.2,"v":40},{"h":25.6,"v":33},{"h":26,"v":36},{"h":26.4,"v":31},{"h":26.8,"v":34},{"h":27.2,"v":30},{"h":27.6,"v":32},{"h":28,"v":28},{"h":28.4,"v":30},{"h":28.8,"v":26},{"h":29.2,"v":24},{"h":29.6,"v":27},{"h":30,"v":22},{"h":30.4,"v":25},{"h":30.8,"v":20},{"h":31.2,"v":22},{"h":31.6,"v":18},{"h":32,"v":16},{"h":32.4,"v":9},{"h":32.8,"v":5},{"h":33.2,"v":3.5},{"h":33.5,"v":2.5},{"h":33.8,"v":4.5},{"h":34.2,"v":6},{"h":34.6,"v":8},{"h":35,"v":7},{"h":35.4,"v":10},{"h":35.8,"v":12},{"h":36.2,"v":9},{"h":36.6,"v":11},{"h":37,"v":13},{"h":37.4,"v":10},{"h":37.8,"v":12},{"h":38.2,"v":11},{"h":38.6,"v":13},{"h":39,"v":10},{"h":39.4,"v":12},{"h":39.8,"v":11},{"h":40.2,"v":9},{"h":40.6,"v":10},{"h":41,"v":3.5},{"h":41.4,"v":2.5},{"h":41.8,"v":3.2},{"h":42.2,"v":2.8},{"h":42.6,"v":2},{"h":43,"v":1.2},{"h":43.4,"v":0.7},{"h":43.8,"v":3},{"h":44.2,"v":2.6},{"h":44.6,"v":3.4},{"h":45,"v":2.8},{"h":45.4,"v":3.8},{"h":45.8,"v":3.1},{"h":46.2,"v":2.5},{"h":46.6,"v":3.3},{"h":47,"v":2.9},{"h":47.4,"v":2.4},{"h":47.8,"v":3.1},{"h":48.2,"v":2.6},{"h":48.6,"v":2.2},{"h":49,"v":2.8},{"h":49.4,"v":2.3},{"h":49.8,"v":1.9},{"h":50.2,"v":2.5},{"h":50.6,"v":2.1},{"h":51,"v":2.6},{"h":51.4,"v":2},{"h":51.8,"v":2.3},{"h":52.2,"v":1.8},{"h":52.6,"v":2.4},{"h":53,"v":2.1},{"h":53.4,"v":1.7},{"h":53.8,"v":2.2},{"h":54.2,"v":1.9},{"h":54.6,"v":2.5},{"h":55,"v":1.6},{"h":55.5,"v":2},{"h":56,"v":1.8},{"h":56.5,"v":1.5},{"h":57,"v":2.1},{"h":57.5,"v":1.7},{"h":58,"v":1.4},{"h":58.5,"v":1.9},{"h":59,"v":1.6},{"h":59.5,"v":1.3},{"h":60,"v":1.7},{"h":60.5,"v":1.2},{"h":61,"v":1.5},{"h":61.5,"v":1.8},{"h":62,"v":1.1},{"h":62.5,"v":1.4},{"h":63,"v":1.6},{"h":63.5,"v":1},{"h":64,"v":1.3},{"h":64.5,"v":1.2},{"h":65,"v":0.9},{"h":65.5,"v":1.5},{"h":66,"v":1.1},{"h":66.5,"v":0.8},{"h":67,"v":1.2},{"h":67.5,"v":1},{"h":68,"v":1.3},{"h":68.5,"v":0.9},{"h":69,"v":1.1},{"h":69.5,"v":0.75},{"h":70,"v":1},{"h":70.5,"v":1.2},{"h":71,"v":0.85},{"h":71.5,"v":1},{"h":72,"v":0.8}],
"z3LB":[{"h":7,"v":0.037},{"h":11.5,"v":0.037},{"h":13,"v":0.037},{"h":15,"v":0.037},{"h":19,"v":0.037},{"h":37,"v":0.037},{"h":40,"v":0.037},{"h":44,"v":0.037},{"h":46,"v":0.037},{"h":48,"v":0.037},{"h":50,"v":0.037},{"h":52,"v":0.037},{"h":53,"v":0.037},{"h":56,"v":0.037},{"h":58,"v":0.037},{"h":60,"v":0.037},{"h":63,"v":0.037},{"h":65,"v":0.037},{"h":69,"v":0.037},{"h":71,"v":0.037},{"h":13.5,"v":0.055},{"h":15.8,"v":0.05},{"h":17.5,"v":0.058},{"h":19.5,"v":0.052},{"h":22,"v":0.06},{"h":24,"v":0.055},{"h":30,"v":0.058},{"h":35,"v":0.06},{"h":36.5,"v":0.055},{"h":38,"v":0.065},{"h":39,"v":0.058},{"h":41,"v":0.06},{"h":42.5,"v":0.052},{"h":44.5,"v":0.068},{"h":46,"v":0.06},{"h":48,"v":0.065},{"h":50,"v":0.058},{"h":53,"v":0.062},{"h":57,"v":0.066},{"h":16,"v":0.07},{"h":16.5,"v":0.1},{"h":17,"v":0.09},{"h":17.5,"v":0.15},{"h":18,"v":0.19},{"h":18.3,"v":0.12},{"h":18.6,"v":0.16},{"h":19,"v":0.11},{"h":19.5,"v":0.08},{"h":20,"v":0.07},{"h":21,"v":0.3},{"h":21.5,"v":0.45},{"h":22,"v":0.55},{"h":22.5,"v":0.7},{"h":23,"v":0.6},{"h":23.5,"v":0.8},{"h":24,"v":0.65},{"h":24.5,"v":0.5},{"h":25,"v":0.55},{"h":25.5,"v":0.45},{"h":26,"v":0.5},{"h":26.5,"v":0.4},{"h":27,"v":0.45},{"h":27.5,"v":0.38},{"h":28,"v":0.42},{"h":28.5,"v":0.35},{"h":29,"v":0.4},{"h":29.5,"v":0.3},{"h":30,"v":0.35},{"h":30.5,"v":0.25},{"h":31,"v":0.28},{"h":31.5,"v":0.2},{"h":32,"v":0.22},{"h":32.5,"v":0.15},{"h":33,"v":0.12},{"h":33.5,"v":0.1},{"h":34,"v":0.09},{"h":35,"v":0.12},{"h":35.5,"v":0.15},{"h":36,"v":0.18},{"h":36.5,"v":0.2},{"h":37,"v":0.15},{"h":37.5,"v":0.19},{"h":38,"v":0.13},{"h":38.5,"v":0.17},{"h":39,"v":0.14},{"h":39.5,"v":0.11},{"h":40,"v":0.15},{"h":40.5,"v":0.1},{"h":41,"v":0.09},{"h":41.5,"v":0.08},{"h":42,"v":0.065},{"h":43,"v":0.07},{"h":22,"v":0.3},{"h":23,"v":0.35},{"h":24,"v":0.4},{"h":25,"v":0.28},{"h":26,"v":0.3},{"h":27,"v":0.25},{"h":28,"v":0.22},{"h":29,"v":0.2},{"h":30,"v":0.18},{"h":31,"v":0.15},{"h":36,"v":0.1},{"h":38,"v":0.09},{"h":39,"v":0.1},{"h":0,"v":0.011},{"h":0.4,"v":0.011},{"h":0.8,"v":0.011},{"h":1.2,"v":0.011},{"h":2.5,"v":0.011},{"h":3.5,"v":0.011},{"h":55,"v":0.011},{"h":57.5,"v":0.011},{"h":60,"v":0.011},{"h":62,"v":0.011}],
"z3LBb":[{"h":0,"v":0.024,"g":1},{"h":21,"v":0.024,"g":1},{"h":33,"v":0.024,"g":2},{"h":72,"v":0.024,"g":2}],
"z3LC":[{"h":13,"v":0.043},{"h":13.6,"v":0.043},{"h":14.2,"v":0.043},{"h":14.8,"v":0.043},{"h":15.4,"v":0.043},{"h":16,"v":0.043},{"h":16.6,"v":0.043},{"h":17.2,"v":0.043},{"h":17.8,"v":0.043},{"h":18.4,"v":0.043},{"h":19,"v":0.043},{"h":19.6,"v":0.043},{"h":20.2,"v":0.043},{"h":20.8,"v":0.043},{"h":33.5,"v":0.047},{"h":34.1,"v":0.047},{"h":34.7,"v":0.047},{"h":35.3,"v":0.047},{"h":35.9,"v":0.047},{"h":36.5,"v":0.047},{"h":37.1,"v":0.047},{"h":37.7,"v":0.047},{"h":38.3,"v":0.047},{"h":38.9,"v":0.047},{"h":39.5,"v":0.047},{"h":40.1,"v":0.047},{"h":41,"v":0.047},{"h":42,"v":0.047},{"h":43,"v":0.047},{"h":44.5,"v":0.047},{"h":46,"v":0.047},{"h":48,"v":0.047},{"h":2,"v":0.024},{"h":5,"v":0.024},{"h":9,"v":0.024},{"h":12,"v":0.024},{"h":16,"v":0.024},{"h":20,"v":0.024},{"h":33.5,"v":0.024},{"h":34.5,"v":0.024},{"h":35.5,"v":0.024},{"h":36,"v":0.024},{"h":37,"v":0.024},{"h":38,"v":0.024},{"h":39.5,"v":0.024},{"h":40.5,"v":0.024},{"h":41.5,"v":0.024},{"h":43,"v":0.024},{"h":45,"v":0.024},{"h":47.5,"v":0.024},{"h":52,"v":0.024},{"h":58,"v":0.024},{"h":63,"v":0.024},{"h":68,"v":0.024},{"h":21,"v":0.07},{"h":21.5,"v":0.1},{"h":22,"v":0.12},{"h":22.5,"v":0.15},{"h":23,"v":0.13},{"h":23.5,"v":0.2},{"h":24,"v":0.22},{"h":24.5,"v":0.16},{"h":25,"v":0.19},{"h":25.5,"v":0.14},{"h":26,"v":0.17},{"h":26.5,"v":0.12},{"h":27,"v":0.15},{"h":27.5,"v":0.11},{"h":28,"v":0.14},{"h":28.5,"v":0.1},{"h":29,"v":0.12},{"h":29.5,"v":0.09},{"h":30,"v":0.11},{"h":30.5,"v":0.08},{"h":31,"v":0.09},{"h":31.5,"v":0.07},{"h":32,"v":0.065},{"h":32.5,"v":0.055},{"h":22,"v":0.08},{"h":23,"v":0.09},{"h":24,"v":0.1},{"h":25,"v":0.085},{"h":26,"v":0.09},{"h":27,"v":0.075},{"h":28,"v":0.07},{"h":29,"v":0.065},{"h":30,"v":0.06},{"h":34,"v":0.06},{"h":35,"v":0.055},{"h":36,"v":0.06},{"h":37,"v":0.05},{"h":38.5,"v":0.055},{"h":40,"v":0.06},{"h":41.5,"v":0.052}],
"z3LCb":[{"h":1.5,"v":0.011,"g":1},{"h":21.3,"v":0.011,"g":1},{"h":33,"v":0.011,"g":2},{"h":72,"v":0.011,"g":2}],
"z3RA":[{"h":0,"v":0.6},{"h":0.3,"v":0.4},{"h":0.6,"v":0.9},{"h":1,"v":0.5},{"h":1.3,"v":1},{"h":1.6,"v":0.45},{"h":2,"v":0.7},{"h":2.3,"v":0.35},{"h":2.6,"v":0.8},{"h":3,"v":1.1},{"h":3.3,"v":0.55},{"h":3.6,"v":0.4},{"h":4,"v":0.75},{"h":4.3,"v":0.5},{"h":4.6,"v":0.9},{"h":5,"v":0.6},{"h":5.3,"v":0.35},{"h":5.6,"v":0.8},{"h":6,"v":0.5},{"h":6.3,"v":0.7},{"h":6.6,"v":1.1},{"h":7,"v":0.45},{"h":7.3,"v":0.6},{"h":7.6,"v":0.9},{"h":8,"v":0.4},{"h":8.3,"v":0.3},{"h":8.6,"v":0.5},{"h":9,"v":0.22},{"h":9.4,"v":0.25},{"h":9.8,"v":0.2},{"h":10.2,"v":0.23},{"h":10.6,"v":0.28},{"h":11,"v":0.22},{"h":11.4,"v":0.3},{"h":11.8,"v":0.4},{"h":12.2,"v":0.45},{"h":12.6,"v":0.35},{"h":13,"v":0.5},{"h":13.4,"v":0.4},{"h":13.8,"v":0.45},{"h":14.2,"v":0.38},{"h":14.6,"v":0.5},{"h":15,"v":0.42},{"h":15.4,"v":0.55},{"h":15.8,"v":0.35},{"h":16.2,"v":0.6},{"h":16.6,"v":0.45},{"h":17,"v":0.7},{"h":17.4,"v":0.5},{"h":17.8,"v":0.8},{"h":18.2,"v":0.6},{"h":18.6,"v":1.1},{"h":19,"v":0.8},{"h":19.4,"v":1.4},{"h":19.8,"v":1.2},{"h":20.2,"v":2.2},{"h":20.5,"v":3.8},{"h":20.8,"v":2.5},{"h":21.2,"v":1.8},{"h":21.6,"v":2.2},{"h":22,"v":1.6},{"h":22.4,"v":2},{"h":22.8,"v":1.5},{"h":23.2,"v":1.8},{"h":23.6,"v":1.3},{"h":24,"v":1.7},{"h":24.4,"v":1.2},{"h":24.8,"v":1.5},{"h":25.2,"v":1.1},{"h":25.6,"v":1.4},{"h":26,"v":1.2},{"h":26.4,"v":0.9},{"h":26.8,"v":1},{"h":27.2,"v":0.55},{"h":27.6,"v":0.7},{"h":28,"v":0.5},{"h":28.4,"v":0.65},{"h":28.8,"v":0.45},{"h":29.2,"v":0.6},{"h":29.6,"v":0.4},{"h":30,"v":0.55},{"h":30.4,"v":0.35},{"h":30.8,"v":0.45},{"h":31.2,"v":0.3},{"h":31.6,"v":0.4},{"h":32,"v":0.5},{"h":32.5,"v":0.35},{"h":33,"v":0.28},{"h":33.5,"v":0.42},{"h":34,"v":0.33},{"h":34.5,"v":0.25},{"h":35,"v":0.4},{"h":35.5,"v":0.3},{"h":36,"v":0.45},{"h":36.5,"v":0.28},{"h":37,"v":0.35},{"h":37.5,"v":0.25},{"h":38,"v":0.3},{"h":38.5,"v":0.22},{"h":39,"v":0.25},{"h":40,"v":0.2},{"h":41,"v":0.22},{"h":42,"v":0.18},{"h":43,"v":0.2},{"h":44,"v":0.22},{"h":45,"v":0.18},{"h":46,"v":0.2},{"h":47,"v":0.16},{"h":48,"v":0.2},{"h":49,"v":0.18},{"h":50,"v":0.15},{"h":52,"v":0.2},{"h":54,"v":0.15},{"h":55,"v":0.18},{"h":57,"v":0.22},{"h":59,"v":0.15},{"h":61,"v":0.18}],
"z3RAb":[{"h":0,"v":0.107,"g":1},{"h":6,"v":0.107,"g":1},{"h":9,"v":0.107,"g":2},{"h":16,"v":0.107,"g":2},{"h":30,"v":0.107,"g":3},{"h":33,"v":0.107,"g":3},{"h":38,"v":0.107,"g":4},{"h":66,"v":0.107,"g":4},{"h":9.2,"v":0.055,"g":5},{"h":11,"v":0.055,"g":5},{"h":38.5,"v":0.055,"g":6},{"h":72,"v":0.055,"g":6}],
"z3RB":[{"h":0.5,"v":0.024},{"h":1,"v":0.024},{"h":1.5,"v":0.024},{"h":3.2,"v":0.024},{"h":4,"v":0.024},{"h":5,"v":0.024},{"h":7.5,"v":0.024},{"h":8.3,"v":0.024},{"h":12,"v":0.024},{"h":16,"v":0.024},{"h":18.5,"v":0.024},{"h":19,"v":0.024},{"h":19.5,"v":0.024},{"h":20,"v":0.024},{"h":20.5,"v":0.024},{"h":21,"v":0.024},{"h":21.5,"v":0.024},{"h":22,"v":0.024},{"h":22.5,"v":0.024},{"h":23,"v":0.024},{"h":23.5,"v":0.024},{"h":24,"v":0.024},{"h":25,"v":0.024},{"h":26,"v":0.024},{"h":27,"v":0.024},{"h":32,"v":0.024},{"h":35,"v":0.024},{"h":38.5,"v":0.024},{"h":39.5,"v":0.024},{"h":45,"v":0.024},{"h":55,"v":0.024},{"h":0.2,"v":0.037},{"h":1.2,"v":0.037},{"h":2.2,"v":0.037},{"h":3.5,"v":0.037},{"h":8.5,"v":0.037},{"h":16.5,"v":0.037},{"h":21,"v":0.037},{"h":22.5,"v":0.037},{"h":25,"v":0.037}],
"z3RBb":[{"h":0,"v":0.011,"g":1},{"h":72,"v":0.011,"g":1}],
"z3RC":[{"h":20,"v":0.011},{"h":20.5,"v":0.011},{"h":21,"v":0.011},{"h":22,"v":0.011},{"h":22.5,"v":0.011},{"h":23,"v":0.011},{"h":24,"v":0.011},{"h":25,"v":0.011},{"h":26,"v":0.011},{"h":26.5,"v":0.011},{"h":27.5,"v":0.011},{"h":28,"v":0.011},{"h":29,"v":0.011},{"h":30,"v":0.011},{"h":31,"v":0.011},{"h":32,"v":0.011},{"h":33,"v":0.011},{"h":34,"v":0.011},{"h":35,"v":0.011},{"h":36,"v":0.011},{"h":37,"v":0.011},{"h":38,"v":0.011},{"h":39,"v":0.011},{"h":40,"v":0.011},{"h":49,"v":0.011},{"h":51,"v":0.011},{"h":70,"v":0.011},{"h":71.5,"v":0.011},{"h":4.2,"v":0.024},{"h":20.8,"v":0.024},{"h":22,"v":0.024},{"h":23.3,"v":0.024},{"h":24.5,"v":0.024},{"h":26.2,"v":0.024},{"h":34,"v":0.024},{"h":35.5,"v":0.024},{"h":44,"v":0.024},{"h":53,"v":0.024},{"h":58,"v":0.024},{"h":4.4,"v":0.037},{"h":21.5,"v":0.037},{"h":23.5,"v":0.037},{"h":25.5,"v":0.037},{"h":21.2,"v":0.074}],
"z4LA":[{"h":6.1,"v":0.0003},{"h":6.8,"v":0.0003},{"h":7.5,"v":0.0003},{"h":8.3,"v":0.0003},{"h":9,"v":0.0003},{"h":9.8,"v":0.0003},{"h":10.6,"v":0.0003},{"h":11.4,"v":0.0003},{"h":12.2,"v":0.0003},{"h":13,"v":0.0003},{"h":13.8,"v":0.0003},{"h":14.6,"v":0.0003},{"h":15.5,"v":0.0003},{"h":16.3,"v":0.0003},{"h":17.1,"v":0.0003},{"h":18,"v":0.0003},{"h":21.5,"v":0.0003},{"h":22.3,"v":0.0003},{"h":23.1,"v":0.0003},{"h":23.9,"v":0.0003},{"h":24.7,"v":0.0003},{"h":25.5,"v":0.0003},{"h":26.3,"v":0.0003},{"h":27.1,"v":0.0003},{"h":27.9,"v":0.0003},{"h":28.7,"v":0.0003},{"h":29.5,"v":0.0003},{"h":30.3,"v":0.0003},{"h":31.2,"v":0.0003},{"h":32,"v":0.0003},{"h":33.5,"v":0.0003},{"h":35,"v":0.0003},{"h":36.5,"v":0.0003},{"h":38,"v":0.0003},{"h":2,"v":0.0002},{"h":6.5,"v":0.0002},{"h":7.3,"v":0.0002},{"h":8.1,"v":0.0002},{"h":8.9,"v":0.0002},{"h":9.7,"v":0.0002},{"h":10.5,"v":0.0002},{"h":11.3,"v":0.0002},{"h":12.1,"v":0.0002},{"h":12.9,"v":0.0002},{"h":13.7,"v":0.0002},{"h":14.5,"v":0.0002},{"h":15.3,"v":0.0002},{"h":16.1,"v":0.0002},{"h":17,"v":0.0002},{"h":21.3,"v":0.0002},{"h":22.1,"v":0.0002},{"h":22.9,"v":0.0002},{"h":23.7,"v":0.0002},{"h":24.5,"v":0.0002},{"h":25.3,"v":0.0002},{"h":26.1,"v":0.0002},{"h":26.9,"v":0.0002},{"h":27.7,"v":0.0002},{"h":28.5,"v":0.0002},{"h":29.3,"v":0.0002},{"h":30.1,"v":0.0002},{"h":30.9,"v":0.0002},{"h":31.7,"v":0.0002},{"h":32.5,"v":0.0002},{"h":33.3,"v":0.0002},{"h":34.5,"v":0.0002},{"h":36,"v":0.0002},{"h":37.5,"v":0.0002},{"h":39,"v":0.0002},{"h":40.5,"v":0.0002},{"h":42,"v":0.0002},{"h":43.5,"v":0.0002},{"h":45,"v":0.0002},{"h":48.5,"v":0.0002},{"h":49.5,"v":0.0002},{"h":55,"v":0.0002},{"h":56,"v":0.0002},{"h":61.5,"v":0.0002},{"h":71,"v":0.0002},{"h":7,"v":0.00046},{"h":7.8,"v":0.00046},{"h":8.6,"v":0.00046},{"h":9.4,"v":0.00046},{"h":10.2,"v":0.00046},{"h":11,"v":0.00046},{"h":11.8,"v":0.00046},{"h":12.6,"v":0.00046},{"h":13.4,"v":0.00046},{"h":14.2,"v":0.00046},{"h":15,"v":0.00046},{"h":15.8,"v":0.00046},{"h":16.6,"v":0.00046},{"h":17.4,"v":0.00046},{"h":18.2,"v":0.00046},{"h":19,"v":0.00046},{"h":19.8,"v":0.00046},{"h":20.6,"v":0.00046},{"h":21.4,"v":0.00046},{"h":22.2,"v":0.00046},{"h":23,"v":0.00046},{"h":23.8,"v":0.00046},{"h":24.6,"v":0.00046},{"h":25.4,"v":0.00046},{"h":26.2,"v":0.00046},{"h":9.5,"v":0.00064},{"h":10.2,"v":0.00064},{"h":11.5,"v":0.00064},{"h":14.7,"v":0.00064},{"h":15.5,"v":0.00064},{"h":16.3,"v":0.00064},{"h":17.1,"v":0.00064},{"h":17.9,"v":0.00064},{"h":18.7,"v":0.00064},{"h":19.5,"v":0.00064},{"h":20.3,"v":0.00064},{"h":21.1,"v":0.00064},{"h":21.9,"v":0.00064},{"h":22.7,"v":0.00064},{"h":23.5,"v":0.00064},{"h":24.3,"v":0.00064},{"h":9.8,"v":0.0009},{"h":11,"v":0.0009},{"h":16.2,"v":0.0009},{"h":17,"v":0.0009},{"h":17.8,"v":0.0009},{"h":18.6,"v":0.0009},{"h":19.4,"v":0.0009},{"h":21.2,"v":0.0009},{"h":22,"v":0.0009},{"h":22.8,"v":0.0009},{"h":23.6,"v":0.0009},{"h":9.9,"v":0.0013},{"h":17.5,"v":0.0013},{"h":18.3,"v":0.0013},{"h":19.1,"v":0.0013},{"h":18.5,"v":0.0015}],
"z4LAb":[{"h":0,"v":0.0001,"g":1},{"h":72,"v":0.0001,"g":1}],
"z4LB":[{"h":9.3,"v":0.000013},{"h":9.8,"v":0.000013},{"h":10.3,"v":0.000013},{"h":18.2,"v":0.000013},{"h":20.9,"v":0.000013},{"h":24,"v":0.000013},{"h":24.6,"v":0.000013},{"h":25,"v":0.000013},{"h":28.3,"v":0.000013},{"h":10.6,"v":0.0001},{"h":21.5,"v":0.0001},{"h":33,"v":0.0001},{"h":36.5,"v":0.0001}],
"z4LC":[{"h":23.5,"v":0.000013},{"h":18.2,"v":0.0001}],
"z4RA":[{"h":0.4,"v":0.0003},{"h":8.5,"v":0.0003},{"h":9.2,"v":0.0003},{"h":9.9,"v":0.0003},{"h":10.6,"v":0.0003},{"h":11.3,"v":0.0003},{"h":12,"v":0.0003},{"h":12.7,"v":0.0003},{"h":13.4,"v":0.0003},{"h":14.1,"v":0.0003},{"h":14.8,"v":0.0003},{"h":15.5,"v":0.0003},{"h":16.2,"v":0.0003},{"h":16.9,"v":0.0003},{"h":17.6,"v":0.0003},{"h":18.3,"v":0.0003},{"h":19,"v":0.0003},{"h":19.7,"v":0.0003},{"h":20.4,"v":0.0003},{"h":21.1,"v":0.0003},{"h":21.8,"v":0.0003},{"h":22.5,"v":0.0003},{"h":23.2,"v":0.0003},{"h":23.9,"v":0.0003},{"h":24.6,"v":0.0003},{"h":25.3,"v":0.0003},{"h":26,"v":0.0003},{"h":26.8,"v":0.0003},{"h":27.5,"v":0.0003},{"h":28.5,"v":0.0003},{"h":29.5,"v":0.0003},{"h":30.5,"v":0.0003},{"h":31.5,"v":0.0003},{"h":33,"v":0.0003},{"h":6.2,"v":0.0002},{"h":9.3,"v":0.0002},{"h":10,"v":0.0002},{"h":10.7,"v":0.0002},{"h":11.4,"v":0.0002},{"h":12.1,"v":0.0002},{"h":12.8,"v":0.0002},{"h":13.5,"v":0.0002},{"h":14.2,"v":0.0002},{"h":14.9,"v":0.0002},{"h":15.6,"v":0.0002},{"h":16.3,"v":0.0002},{"h":17,"v":0.0002},{"h":17.7,"v":0.0002},{"h":18.4,"v":0.0002},{"h":19.1,"v":0.0002},{"h":19.8,"v":0.0002},{"h":20.5,"v":0.0002},{"h":21.2,"v":0.0002},{"h":21.9,"v":0.0002},{"h":22.6,"v":0.0002},{"h":23.3,"v":0.0002},{"h":24,"v":0.0002},{"h":24.7,"v":0.0002},{"h":25.4,"v":0.0002},{"h":26.1,"v":0.0002},{"h":26.8,"v":0.0002},{"h":27.5,"v":0.0002},{"h":28.2,"v":0.0002},{"h":28.9,"v":0.0002},{"h":29.6,"v":0.0002},{"h":30.3,"v":0.0002},{"h":31,"v":0.0002},{"h":31.7,"v":0.0002},{"h":32.4,"v":0.0002},{"h":33.1,"v":0.0002},{"h":33.8,"v":0.0002},{"h":34.5,"v":0.0002},{"h":35.2,"v":0.0002},{"h":36,"v":0.0002},{"h":42.6,"v":0.0002},{"h":43.4,"v":0.0002},{"h":47.7,"v":0.0002},{"h":9,"v":0.00046},{"h":9.8,"v":0.00046},{"h":10.6,"v":0.00046},{"h":11.4,"v":0.00046},{"h":12.2,"v":0.00046},{"h":13,"v":0.00046},{"h":13.8,"v":0.00046},{"h":14.6,"v":0.00046},{"h":15.4,"v":0.00046},{"h":16.2,"v":0.00046},{"h":17,"v":0.00046},{"h":17.8,"v":0.00046},{"h":18.6,"v":0.00046},{"h":19.4,"v":0.00046},{"h":20.2,"v":0.00046},{"h":21,"v":0.00046},{"h":21.8,"v":0.00046},{"h":22.6,"v":0.00046},{"h":23.4,"v":0.00046},{"h":24.2,"v":0.00046},{"h":25,"v":0.00046},{"h":9,"v":0.00064},{"h":9.6,"v":0.00064},{"h":14.5,"v":0.00064},{"h":15.2,"v":0.00064},{"h":15.9,"v":0.00064},{"h":16.6,"v":0.00064},{"h":17.3,"v":0.00064},{"h":18,"v":0.00064},{"h":18.7,"v":0.00064},{"h":19.4,"v":0.00064},{"h":20.1,"v":0.00064},{"h":22.3,"v":0.00064},{"h":23.3,"v":0.00064},{"h":17,"v":0.0009},{"h":17.8,"v":0.0009},{"h":18.6,"v":0.0009},{"h":19.4,"v":0.0009},{"h":20.5,"v":0.0009},{"h":17.4,"v":0.0013},{"h":19.1,"v":0.0013}],
"z4RAb":[{"h":0,"v":0.0001,"g":1},{"h":69,"v":0.0001,"g":1}],
"z4RB":[{"h":14.7,"v":0.000013},{"h":15.2,"v":0.000013},{"h":15.8,"v":0.000013},{"h":23,"v":0.000013},{"h":28.9,"v":0.000013},{"h":61.8,"v":0.000013},{"h":12.6,"v":0.0001},{"h":16.5,"v":0.0001},{"h":26,"v":0.0001},{"h":44.5,"v":0.0001}],
"z4RC":[{"h":19.7,"v":0.000013}]
},
"bounds":"flush",
"columns":2,
"spacing":{"row":38,"column":104},
"resolve":{"scale":{"color":"independent"}},
"concat":[
  {"width":296,"height":180,"resolve":{"axis":{"x":"independent","y":"independent"}},"layer":[
   {"data":{"name":"e1LA"},"mark":{"type":"line","strokeWidth":3.5,"clip":true},"encoding":{
     "x":{"field":"h","type":"quantitative","scale":{"domain":[0,72]},"axis":{"orient":"bottom","values":[0,6,12,18,24,30,36,42,48,54,60,66,72],"labels":false,"title":null}},
     "y":{"field":"v","type":"quantitative","scale":{"type":"log","domain":[0.001,10000000]},"axis":{"orient":"left","values":[0.01,1,100,10000,1000000],"labelExpr":"'10' + {'-5':'⁻⁵','-4':'⁻⁴','-3':'⁻³','-2':'⁻²','-1':'⁻¹','0':'⁰','1':'¹','2':'²','3':'³','4':'⁴','5':'⁵','6':'⁶','7':'⁷'}[''+round(log(datum.value)/LN10)]","title":"1/(cm² s sr MeV)","titleX":-40,"titleBaseline":"bottom"}},
     "color":{"datum":"0.035 to 0.065 MeV Electrons","type":"nominal","scale":{"domain":["0.035 to 0.065 MeV Electrons","0.7 to 4.0 Mev Electrons"],"range":["black","blue"]},"legend":{"orient":"none","legendX":-14,"legendY":-17,"direction":"horizontal","title":null,"symbolSize":0,"symbolOpacity":0,"symbolStrokeWidth":0,"labelOffset":0,"columnPadding":33,"labelFont":"DejaVu Sans","labelFontSize":13.7,"labelColor":{"expr":"['black','blue'][datum.index]"}}}}},
   {"data":{"name":"e1LB"},"mark":{"type":"square","size":5,"opacity":1,"clip":true},"encoding":{
     "x":{"field":"h","type":"quantitative","axis":{"orient":"top","values":[0,6,12,18,24,30,36,42,48,54,60,66,72],"labels":false,"title":null}},
     "y":{"field":"v","type":"quantitative","axis":{"orient":"right","values":[0.01,1,100,10000,1000000],"labels":false,"title":null}},
     "color":{"datum":"0.7 to 4.0 Mev Electrons","type":"nominal"}}}
  ]},
  {"width":296,"height":180,"resolve":{"axis":{"x":"independent","y":"independent"}},"layer":[
   {"data":{"name":"e1RA"},"mark":{"type":"line","strokeWidth":3.5,"clip":true},"encoding":{
     "x":{"field":"h","type":"quantitative","scale":{"domain":[0,72]},"axis":{"orient":"bottom","values":[0,6,12,18,24,30,36,42,48,54,60,66,72],"labels":false,"title":null}},
     "y":{"field":"v","type":"quantitative","scale":{"type":"log","domain":[0.001,10000000]},"axis":{"orient":"left","values":[0.01,1,100,10000,1000000],"labelExpr":"'10' + {'-5':'⁻⁵','-4':'⁻⁴','-3':'⁻³','-2':'⁻²','-1':'⁻¹','0':'⁰','1':'¹','2':'²','3':'³','4':'⁴','5':'⁵','6':'⁶','7':'⁷'}[''+round(log(datum.value)/LN10)]","title":"1/(cm² s sr MeV)","titleX":-40,"titleBaseline":"bottom"}},
     "color":{"datum":"0.035 to 0.065 MeV Electrons","type":"nominal","scale":{"domain":["0.035 to 0.065 MeV Electrons","0.7 to 4.0 Mev Electrons"],"range":["black","blue"]},"legend":null}}},
   {"data":{"name":"e1RB"},"mark":{"type":"square","size":5,"opacity":1,"clip":true},"encoding":{
     "x":{"field":"h","type":"quantitative","axis":{"orient":"top","values":[0,6,12,18,24,30,36,42,48,54,60,66,72],"labels":false,"title":null}},
     "y":{"field":"v","type":"quantitative","axis":{"orient":"right","values":[0.01,1,100,10000,1000000],"labels":false,"title":null}},
     "color":{"datum":"0.7 to 4.0 Mev Electrons","type":"nominal"}}}
  ]},
  {"width":296,"height":180,"resolve":{"axis":{"x":"independent","y":"independent"}},"layer":[
   {"data":{"name":"h2LE"},"mark":{"type":"line","strokeWidth":1.6,"strokeDash":[6,2],"clip":true},"encoding":{
     "x":{"field":"h","type":"quantitative","scale":{"domain":[0,72]},"axis":{"orient":"bottom","values":[0,6,12,18,24,30,36,42,48,54,60,66,72],"labels":false,"title":null}},
     "y":{"field":"v","type":"quantitative","scale":{"type":"log","domain":[0.00001,1000000]},"axis":{"orient":"left","values":[0.0001,0.01,1,100,10000,1000000],"labelExpr":"'10' + {'-5':'⁻⁵','-4':'⁻⁴','-3':'⁻³','-2':'⁻²','-1':'⁻¹','0':'⁰','1':'¹','2':'²','3':'³','4':'⁴','5':'⁵','6':'⁶','7':'⁷'}[''+round(log(datum.value)/LN10)]","title":"1/(cm² s sr MeV)","titleX":-40,"titleBaseline":"bottom"}},
     "detail":{"field":"g"},
     "color":{"datum":"13-100 MeV H","type":"nominal","scale":{"domain":["0.14-0.62 MeV H","0.62-2.22 MeV H","2.2-12 MeV H","13-100 MeV H"],"range":["black","blue","#c88264","red"]},"legend":{"orient":"none","legendX":-14,"legendY":-18,"direction":"horizontal","title":null,"symbolSize":0,"symbolOpacity":0,"symbolStrokeWidth":0,"labelOffset":0,"columnPadding":15,"labelFont":"DejaVu Sans","labelFontSize":13.7,"labelColor":{"expr":"['black','blue','#c88264','red'][datum.index]"}}}}},
   {"data":{"name":"h2LD"},"mark":{"type":"square","size":5,"opacity":1,"clip":true},"encoding":{
     "x":{"field":"h","type":"quantitative","axis":{"orient":"top","values":[0,6,12,18,24,30,36,42,48,54,60,66,72],"labels":false,"title":null}},
     "y":{"field":"v","type":"quantitative","axis":{"orient":"right","values":[0.0001,0.01,1,100,10000,1000000],"labels":false,"title":null}},
     "color":{"datum":"13-100 MeV H","type":"nominal"}}},
   {"data":{"name":"h2LC"},"mark":{"type":"line","strokeWidth":3,"clip":true},"encoding":{"x":{"field":"h","type":"quantitative","axis":null},"y":{"field":"v","type":"quantitative","axis":null},"color":{"datum":"2.2-12 MeV H","type":"nominal"}}},
   {"data":{"name":"h2LB"},"mark":{"type":"line","strokeWidth":3,"clip":true},"encoding":{"x":{"field":"h","type":"quantitative","axis":null},"y":{"field":"v","type":"quantitative","axis":null},"color":{"datum":"0.62-2.22 MeV H","type":"nominal"}}},
   {"data":{"name":"h2LA"},"mark":{"type":"line","strokeWidth":3,"clip":true},"encoding":{"x":{"field":"h","type":"quantitative","axis":null},"y":{"field":"v","type":"quantitative","axis":null},"color":{"datum":"0.14-0.62 MeV H","type":"nominal"}}}
  ]},
  {"width":296,"height":180,"resolve":{"axis":{"x":"independent","y":"independent"}},"layer":[
   {"data":{"name":"h2RE"},"mark":{"type":"line","strokeWidth":1.6,"strokeDash":[6,2],"clip":true},"encoding":{
     "x":{"field":"h","type":"quantitative","scale":{"domain":[0,72]},"axis":{"orient":"bottom","values":[0,6,12,18,24,30,36,42,48,54,60,66,72],"labels":false,"title":null}},
     "y":{"field":"v","type":"quantitative","scale":{"type":"log","domain":[0.00001,1000000]},"axis":{"orient":"left","values":[0.0001,0.01,1,100,10000,1000000],"labelExpr":"'10' + {'-5':'⁻⁵','-4':'⁻⁴','-3':'⁻³','-2':'⁻²','-1':'⁻¹','0':'⁰','1':'¹','2':'²','3':'³','4':'⁴','5':'⁵','6':'⁶','7':'⁷'}[''+round(log(datum.value)/LN10)]","title":"1/(cm² s sr MeV)","titleX":-40,"titleBaseline":"bottom"}},
     "detail":{"field":"g"},
     "color":{"datum":"13-100 MeV H","type":"nominal","scale":{"domain":["0.14-0.62 MeV H","0.62-2.22 MeV H","2.2-12 MeV H","13-100 MeV H"],"range":["black","blue","#c88264","red"]},"legend":null}}},
   {"data":{"name":"h2RD"},"mark":{"type":"square","size":5,"opacity":1,"clip":true},"encoding":{
     "x":{"field":"h","type":"quantitative","axis":{"orient":"top","values":[0,6,12,18,24,30,36,42,48,54,60,66,72],"labels":false,"title":null}},
     "y":{"field":"v","type":"quantitative","axis":{"orient":"right","values":[0.0001,0.01,1,100,10000,1000000],"labels":false,"title":null}},
     "color":{"datum":"13-100 MeV H","type":"nominal"}}},
   {"data":{"name":"h2RC"},"mark":{"type":"line","strokeWidth":3,"clip":true},"encoding":{"x":{"field":"h","type":"quantitative","axis":null},"y":{"field":"v","type":"quantitative","axis":null},"color":{"datum":"2.2-12 MeV H","type":"nominal"}}},
   {"data":{"name":"h2RB"},"mark":{"type":"line","strokeWidth":3,"clip":true},"encoding":{"x":{"field":"h","type":"quantitative","axis":null},"y":{"field":"v","type":"quantitative","axis":null},"color":{"datum":"0.62-2.22 MeV H","type":"nominal"}}},
   {"data":{"name":"h2RA"},"mark":{"type":"line","strokeWidth":3,"clip":true},"encoding":{"x":{"field":"h","type":"quantitative","axis":null},"y":{"field":"v","type":"quantitative","axis":null},"color":{"datum":"0.14-0.62 MeV H","type":"nominal"}}}
  ]},
  {"width":296,"height":175,"resolve":{"axis":{"x":"independent","y":"independent"}},"layer":[
   {"data":{"name":"z3LA"},"mark":{"type":"square","size":6,"opacity":1,"clip":true},"encoding":{
     "x":{"field":"h","type":"quantitative","scale":{"domain":[0,72]},"axis":{"orient":"bottom","values":[0,6,12,18,24,30,36,42,48,54,60,66,72],"labels":false,"title":null}},
     "y":{"field":"v","type":"quantitative","scale":{"type":"log","domain":[0.001,10000]},"axis":{"orient":"left","values":[0.001,0.01,0.1,1,10,100,1000,10000],"labelExpr":"'10' + {'-5':'⁻⁵','-4':'⁻⁴','-3':'⁻³','-2':'⁻²','-1':'⁻¹','0':'⁰','1':'¹','2':'²','3':'³','4':'⁴','5':'⁵','6':'⁶','7':'⁷'}[''+round(log(datum.value)/LN10)]","title":"1/(cm² s sr MeV/nuc.)","titleX":-40,"titleBaseline":"bottom"}},
     "color":{"datum":"0.12-1.08 MeV/n He","type":"nominal","scale":{"domain":["0.12-1.08 MeV/n He","0.12-1.08 MeV/n CNO","0.12-1.08 MeV Fe"],"range":["black","blue","red"]},"legend":{"orient":"none","legendX":-14,"legendY":-21,"direction":"horizontal","title":null,"symbolSize":0,"symbolOpacity":0,"symbolStrokeWidth":0,"labelOffset":0,"columnPadding":20,"labelFont":"DejaVu Sans","labelFontSize":13.7,"labelColor":{"expr":"['black','blue','red'][datum.index]"}}}}},
   {"data":{"name":"z3LBb"},"mark":{"type":"line","strokeWidth":2.5,"strokeDash":[9,2],"clip":true},"encoding":{
     "x":{"field":"h","type":"quantitative","axis":{"orient":"top","values":[0,6,12,18,24,30,36,42,48,54,60,66,72],"labels":false,"title":null}},
     "y":{"field":"v","type":"quantitative","axis":{"orient":"right","values":[0.001,0.01,0.1,1,10,100,1000,10000],"labels":false,"title":null}},
     "detail":{"field":"g"},
     "color":{"datum":"0.12-1.08 MeV/n CNO","type":"nominal"}}},
   {"data":{"name":"z3LCb"},"mark":{"type":"line","strokeWidth":2.5,"strokeDash":[14,2],"clip":true},"encoding":{"x":{"field":"h","type":"quantitative","axis":null},"y":{"field":"v","type":"quantitative","axis":null},"detail":{"field":"g"},"color":{"datum":"0.12-1.08 MeV Fe","type":"nominal"}}},
   {"data":{"name":"z3LB"},"mark":{"type":"square","size":6,"opacity":1,"clip":true},"encoding":{"x":{"field":"h","type":"quantitative","axis":null},"y":{"field":"v","type":"quantitative","axis":null},"color":{"datum":"0.12-1.08 MeV/n CNO","type":"nominal"}}},
   {"data":{"name":"z3LC"},"mark":{"type":"square","size":6,"opacity":1,"clip":true},"encoding":{"x":{"field":"h","type":"quantitative","axis":null},"y":{"field":"v","type":"quantitative","axis":null},"color":{"datum":"0.12-1.08 MeV Fe","type":"nominal"}}}
  ]},
  {"width":296,"height":175,"resolve":{"axis":{"x":"independent","y":"independent"}},"layer":[
   {"data":{"name":"z3RA"},"mark":{"type":"square","size":6,"opacity":1,"clip":true},"encoding":{
     "x":{"field":"h","type":"quantitative","scale":{"domain":[0,72]},"axis":{"orient":"bottom","values":[0,6,12,18,24,30,36,42,48,54,60,66,72],"labels":false,"title":null}},
     "y":{"field":"v","type":"quantitative","scale":{"type":"log","domain":[0.001,10000]},"axis":{"orient":"left","values":[0.001,0.01,0.1,1,10,100,1000,10000],"labelExpr":"'10' + {'-5':'⁻⁵','-4':'⁻⁴','-3':'⁻³','-2':'⁻²','-1':'⁻¹','0':'⁰','1':'¹','2':'²','3':'³','4':'⁴','5':'⁵','6':'⁶','7':'⁷'}[''+round(log(datum.value)/LN10)]","title":"1/(cm² s sr MeV/nuc.)","titleX":-40,"titleBaseline":"bottom"}},
     "color":{"datum":"0.12-1.08 MeV/n He","type":"nominal","scale":{"domain":["0.12-1.08 MeV/n He","0.12-1.08 MeV/n CNO","0.12-1.08 MeV Fe"],"range":["black","blue","red"]},"legend":null}}},
   {"data":{"name":"z3RAb"},"mark":{"type":"line","strokeWidth":2,"strokeDash":[5,3],"clip":true},"encoding":{
     "x":{"field":"h","type":"quantitative","axis":{"orient":"top","values":[0,6,12,18,24,30,36,42,48,54,60,66,72],"labels":false,"title":null}},
     "y":{"field":"v","type":"quantitative","axis":{"orient":"right","values":[0.001,0.01,0.1,1,10,100,1000,10000],"labels":false,"title":null}},
     "detail":{"field":"g"},
     "color":{"datum":"0.12-1.08 MeV/n He","type":"nominal"}}},
   {"data":{"name":"z3RBb"},"mark":{"type":"line","strokeWidth":2.5,"strokeDash":[10,2],"clip":true},"encoding":{"x":{"field":"h","type":"quantitative","axis":null},"y":{"field":"v","type":"quantitative","axis":null},"detail":{"field":"g"},"color":{"datum":"0.12-1.08 MeV/n CNO","type":"nominal"}}},
   {"data":{"name":"z3RB"},"mark":{"type":"square","size":6,"opacity":1,"clip":true},"encoding":{"x":{"field":"h","type":"quantitative","axis":null},"y":{"field":"v","type":"quantitative","axis":null},"color":{"datum":"0.12-1.08 MeV/n CNO","type":"nominal"}}},
   {"data":{"name":"z3RC"},"mark":{"type":"square","size":6,"opacity":1,"clip":true},"encoding":{"x":{"field":"h","type":"quantitative","axis":null},"y":{"field":"v","type":"quantitative","axis":null},"color":{"datum":"0.12-1.08 MeV Fe","type":"nominal"}}}
  ]},
  {"width":296,"height":180,"resolve":{"axis":{"x":"independent","y":"independent"}},"layer":[
   {"data":{"name":"z4LA"},"mark":{"type":"square","size":5,"opacity":1,"clip":true},"encoding":{
     "x":{"field":"h","type":"quantitative","scale":{"domain":[0,72]},"axis":{"orient":"bottom","values":[0,6,12,18,24,30,36,42,48,54,60,66,72],"labelExpr":"datum.value==0?'13-Aug':datum.value==24?'14-Aug':datum.value==48?'15-Aug':datum.value==72?'16-Aug':''","labelFontSize":14,"title":"STEREO Behind","titleAnchor":"start","titleAlign":"left"}},
     "y":{"field":"v","type":"quantitative","scale":{"type":"log","domain":[0.00001,1000]},"axis":{"orient":"left","values":[0.0001,0.001,0.01,0.1,1,10,100],"labelExpr":"(round(log(datum.value)/LN10)%2) ? '' : '10' + {'-5':'⁻⁵','-4':'⁻⁴','-3':'⁻³','-2':'⁻²','-1':'⁻¹','0':'⁰','1':'¹','2':'²','3':'³','4':'⁴','5':'⁵','6':'⁶','7':'⁷'}[''+round(log(datum.value)/LN10)]","title":"1/(cm² s sr MeV/nuc.)","titleX":-40,"titleBaseline":"bottom"}},
     "color":{"datum":"4 to 12 MeV/n He","type":"nominal","scale":{"domain":["4 to 12 MeV/n He","4 to 12 MeV/n CNO","4 to 12 MeV Fe"],"range":["black","blue","red"]},"legend":{"orient":"none","legendX":-14,"legendY":-17,"direction":"horizontal","title":null,"symbolSize":0,"symbolOpacity":0,"symbolStrokeWidth":0,"labelOffset":0,"columnPadding":18,"labelFont":"DejaVu Sans","labelFontSize":13.7,"labelColor":{"expr":"['black','blue','red'][datum.index]"}}}}},
   {"data":{"name":"z4LAb"},"mark":{"type":"line","strokeWidth":1.5,"strokeDash":[9,3],"clip":true},"encoding":{
     "x":{"field":"h","type":"quantitative","axis":{"orient":"top","values":[0,6,12,18,24,30,36,42,48,54,60,66,72],"labels":false,"title":null}},
     "y":{"field":"v","type":"quantitative","axis":{"orient":"right","values":[0.0001,0.001,0.01,0.1,1,10,100],"labels":false,"title":null}},
     "detail":{"field":"g"},
     "color":{"datum":"4 to 12 MeV/n He","type":"nominal"}}},
   {"data":{"name":"z4LB"},"mark":{"type":"square","size":6,"opacity":1,"clip":true},"encoding":{"x":{"field":"h","type":"quantitative","axis":null},"y":{"field":"v","type":"quantitative","axis":null},"color":{"datum":"4 to 12 MeV/n CNO","type":"nominal"}}},
   {"data":{"name":"z4LC"},"mark":{"type":"square","size":6,"opacity":1,"clip":true},"encoding":{"x":{"field":"h","type":"quantitative","axis":null},"y":{"field":"v","type":"quantitative","axis":null},"color":{"datum":"4 to 12 MeV Fe","type":"nominal"}}}
  ]},
  {"width":296,"height":180,"resolve":{"axis":{"x":"independent","y":"independent"}},"layer":[
   {"data":{"name":"z4RA"},"mark":{"type":"square","size":5,"opacity":1,"clip":true},"encoding":{
     "x":{"field":"h","type":"quantitative","scale":{"domain":[0,72]},"axis":{"orient":"bottom","values":[0,6,12,18,24,30,36,42,48,54,60,66,72],"labelExpr":"datum.value==0?'13-Aug':datum.value==24?'14-Aug':datum.value==48?'15-Aug':datum.value==72?'16-Aug':''","labelFontSize":14,"title":"STEREO Ahead","titleAnchor":"end","titleAlign":"right"}},
     "y":{"field":"v","type":"quantitative","scale":{"type":"log","domain":[0.00001,1000]},"axis":{"orient":"left","values":[0.0001,0.001,0.01,0.1,1,10,100],"labelExpr":"(round(log(datum.value)/LN10)%2) ? '' : '10' + {'-5':'⁻⁵','-4':'⁻⁴','-3':'⁻³','-2':'⁻²','-1':'⁻¹','0':'⁰','1':'¹','2':'²','3':'³','4':'⁴','5':'⁵','6':'⁶','7':'⁷'}[''+round(log(datum.value)/LN10)]","title":"1/(cm² s sr MeV/nuc.)","titleX":-40,"titleBaseline":"bottom"}},
     "color":{"datum":"4 to 12 MeV/n He","type":"nominal","scale":{"domain":["4 to 12 MeV/n He","4 to 12 MeV/n CNO","4 to 12 MeV Fe"],"range":["black","blue","red"]},"legend":null}}},
   {"data":{"name":"z4RAb"},"mark":{"type":"line","strokeWidth":1.5,"strokeDash":[9,3],"clip":true},"encoding":{
     "x":{"field":"h","type":"quantitative","axis":{"orient":"top","values":[0,6,12,18,24,30,36,42,48,54,60,66,72],"labels":false,"title":null}},
     "y":{"field":"v","type":"quantitative","axis":{"orient":"right","values":[0.0001,0.001,0.01,0.1,1,10,100],"labels":false,"title":null}},
     "detail":{"field":"g"},
     "color":{"datum":"4 to 12 MeV/n He","type":"nominal"}}},
   {"data":{"name":"z4RB"},"mark":{"type":"square","size":6,"opacity":1,"clip":true},"encoding":{"x":{"field":"h","type":"quantitative","axis":null},"y":{"field":"v","type":"quantitative","axis":null},"color":{"datum":"4 to 12 MeV/n CNO","type":"nominal"}}},
   {"data":{"name":"z4RC"},"mark":{"type":"square","size":6,"opacity":1,"clip":true},"encoding":{"x":{"field":"h","type":"quantitative","axis":null},"y":{"field":"v","type":"quantitative","axis":null},"color":{"datum":"4 to 12 MeV Fe","type":"nominal"}}}
  ]}
]
}
